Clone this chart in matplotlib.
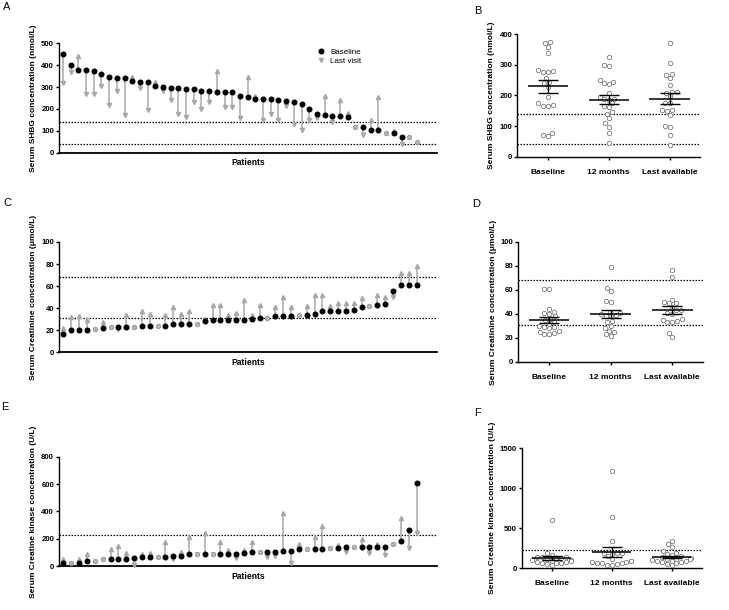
import numpy as np
import matplotlib
matplotlib.use("Agg")
import matplotlib.pyplot as plt

plt.rcParams['font.family'] = ['Liberation Sans', 'DejaVu Sans']

# A - SHBG (nmol/L) per patient, baseline and last visit
shbg_base = [452, 400, 380, 378, 375, 360, 348, 343, 340, 329, 324, 324, 306, 302, 297, 297,
             293, 290, 283, 282, 279, 276, 276, 257, 256, 246, 246, 245, 243, 238, 233, 223,
             199, 177, 174, 168, 168, 163, 119, 116, 104, 104, 89, 88, 73, 70, 50]
shbg_last = [320, 370, 440, 266, 270, 305, 216, 282, 173, 346, 294, 193, 322, 280, 241, 177,
             165, 230, 199, 231, 375, 210, 210, 157, 347, 260, 148, 178, 148, 214, 129, 104,
             150, 159, 259, 140, 239, 182, 119, 81, 148, 254, 89, 99, 40, 70, 50]

# C - creatinine (umol/L)
creat_base = [17, 20, 20, 20, 21, 22, 23, 23, 23, 23, 24, 24, 24, 24, 26, 26, 26, 26, 28, 29,
              29, 29, 29, 29, 30, 31, 31, 33, 33, 33, 34, 34, 35, 37, 37, 37, 37, 38, 41, 42,
              43, 44, 56, 61, 61, 61]
creat_last = [22, 32, 33, 29, 21, 27, 23, 21, 34, 23, 37, 35, 24, 34, 41, 35, 37, 26, 30, 43,
              43, 34, 36, 47, 34, 43, 31, 41, 50, 41, 34, 42, 52, 52, 42, 45, 45, 45, 49, 42,
              52, 50, 50, 72, 72, 78]

# E - creatine kinase (U/L)
ck_base = [20, 24, 24, 39, 39, 51, 51, 51, 51, 61, 63, 66, 66, 66, 76, 76, 85, 85, 88, 88,
           90, 90, 90, 93, 100, 100, 100, 105, 110, 110, 122, 122, 122, 127, 129, 129, 137,
           137, 137, 137, 137, 141, 158, 183, 263, 605]
ck_last = [49, 24, 51, 88, 39, 51, 122, 146, 93, 5, 88, 93, 66, 178, 49, 100, 215, 85, 244,
           88, 178, 115, 56, 120, 178, 100, 65, 75, 385, 20, 161, 122, 215, 293, 129, 154,
           100, 137, 195, 93, 161, 80, 158, 349, 134, 244]

groups = ['Baseline', '12 months', 'Last available']

# B - SHBG by time point
shbg_b0 = [376, 372, 358, 338, 282, 278, 278, 280, 256, 244, 240, 228, 196, 175, 168, 165,
           167, 78, 70, 68]
shbg_12 = [327, 300, 298, 251, 245, 240, 238, 207, 196, 190, 187, 185, 174, 166, 163, 147,
           140, 125, 109, 98, 78, 44]
shbg_la = [370, 305, 270, 267, 256, 234, 212, 212, 207, 198, 177, 174, 153, 153, 150, 136,
           100, 98, 71, 38]

# D - creatinine by time point
creat_b0 = [61, 61, 44, 42, 41, 40, 38, 36, 35, 33, 32, 30, 29, 29, 28, 26, 25, 24, 23, 23]
creat_12 = [79, 62, 59, 51, 50, 42, 41, 40, 39, 38, 38, 34, 33, 30, 28, 26, 25, 23, 22]
creat_la = [77, 71, 52, 50, 49, 49, 46, 43, 43, 41, 40, 36, 35, 34, 33, 33, 24, 21]

# F - creatine kinase by time point
ck_b0 = [600, 185, 165, 145, 140, 135, 130, 125, 115, 105, 100, 95, 85, 80, 75, 70, 65, 60,
         55, 35]
ck_12 = [1210, 640, 345, 195, 190, 185, 175, 150, 110, 90, 85, 80, 75, 70, 65, 60, 55, 45, 40]
ck_la = [340, 300, 260, 220, 190, 175, 165, 150, 140, 130, 120, 115, 110, 100, 95, 90, 85,
         80, 75, 60, 50, 35]

GREY = '#a8a8a8'
TICK_FS = 5.6
LAB_FS = 6.0


def style(ax, ylim, yticks, ylabel):
    for s in ['top', 'right']:
        ax.spines[s].set_visible(False)
    ax.spines['left'].set_linewidth(1.0)
    ax.spines['bottom'].set_linewidth(1.0)
    ax.set_ylim(ylim)
    ax.set_yticks(yticks)
    ax.tick_params(axis='y', length=2.5, width=1.0, labelsize=TICK_FS, pad=1)
    for t in ax.get_yticklabels():
        t.set_fontweight('bold')
    ax.set_ylabel(ylabel, fontsize=LAB_FS, fontweight='bold', labelpad=3)


def paired(ax, base, last, xlim, ylim, yticks, ylabel, refs):
    x = np.arange(1, len(base) + 1)
    for xi, b, l in zip(x, base, last):
        if b == l:
            ax.plot(xi, b, 'o', color='#b5b5b5', mec='#8a8a8a', mew=0.5, ms=3.3, zorder=4)
        else:
            ax.plot([xi, xi], [b, l], color=GREY, lw=1.1, zorder=2, clip_on=False)
            ax.plot(xi, l, '^' if l > b else 'v', color=GREY, ms=3.0, zorder=3, clip_on=False)
            ax.plot(xi, b, 'o', color='black', ms=3.3, zorder=4)
    for r in refs:
        ax.axhline(r, color='black', ls=(0, (1.2, 1.2)), lw=0.9, zorder=1)
    ax.set_xlim(xlim)
    ax.set_xticks([])
    style(ax, ylim, yticks, ylabel)
    ax.spines['bottom'].set_linewidth(1.3)
    ax.set_xlabel('Patients', fontsize=6.2, fontweight='bold', labelpad=4)


def swarm(vals, ypx, d):
    # horizontal offsets (px) so that circles of diameter d do not overlap
    vals = np.asarray(vals, float)
    order = np.argsort(vals)
    cands = sorted(np.arange(-40, 41) * 0.5, key=lambda c: (abs(c), c))
    placed = []
    offs = np.zeros(len(vals))
    for k in order:
        y = vals[k] * ypx
        for c in cands:
            if all((c - px) ** 2 + (y - py) ** 2 >= d * d for px, py in placed):
                break
        offs[k] = c
        placed.append((c, y))
    return offs


def column(ax, data, ylim, yticks, ylabel, refs, ypx):
    xpx = 61.0
    for i, vals in enumerate(data):
        offs = swarm(vals, ypx, 4.8) / xpx
        ax.scatter(i + offs, vals, s=10, facecolor='white', edgecolor='#7a7a7a', lw=0.6, zorder=3)
        m = np.mean(vals)
        se = np.std(vals, ddof=1) / np.sqrt(len(vals))
        ax.hlines(m, i - 0.33, i + 0.33, color='black', lw=1.1, zorder=4)
        ax.errorbar(i, m, yerr=se, fmt='none', ecolor='black', elinewidth=1.0,
                    capsize=7, capthick=1.0, zorder=4)
    for r in refs:
        ax.axhline(r, color='black', ls=(0, (1.2, 1.2)), lw=0.9, zorder=1)
    ax.set_xlim(-0.5, 2.5)
    ax.set_xticks(range(3))
    ax.set_xticklabels(groups, fontsize=6.0, fontweight='bold')
    ax.tick_params(axis='x', length=2.5, width=1.0, pad=6)
    style(ax, ylim, yticks, ylabel)


fig = plt.figure(figsize=(7.29, 6.10), dpi=100)

axA = fig.add_axes([0.0809, 0.7497, 0.5185, 0.1793])
axC = fig.add_axes([0.0809, 0.4225, 0.5185, 0.1808])
axE = fig.add_axes([0.0809, 0.0721, 0.5185, 0.1792])
axB = fig.add_axes([0.7096, 0.7431, 0.2506, 0.2007])
axD = fig.add_axes([0.7110, 0.4066, 0.2534, 0.1967])
axF = fig.add_axes([0.7156, 0.0684, 0.2469, 0.1967])

paired(axA, shbg_base, shbg_last, (0.48, 49.6), (0, 500), range(0, 501, 100),
       'Serum SHBG concentration (nmol/L)', [140, 40])
paired(axC, creat_base, creat_last, (0.43, 48.6), (0, 100), range(0, 101, 20),
       'Serum Creatinine concentration (\u03bcmol/L)', [68, 31])
paired(axE, ck_base, ck_last, (0.43, 48.6), (0, 800), range(0, 801, 200),
       'Serum Creatine kinase concentration (U/L)', [228])

# legend in A
axA.plot([], [], 'o', color='black', ms=3.3, label='Baseline')
axA.plot([], [], 'v', color=GREY, ms=3.0, label='Last visit')
axA.legend(loc='upper left', bbox_to_anchor=(0.66, 1.02), frameon=False, fontsize=5.8,
           handletextpad=0.6, labelspacing=0.2, handlelength=1.2)

column(axB, [shbg_b0, shbg_12, shbg_la], (0, 400), range(0, 401, 100),
       'Serum SHBG concentration (nmol/L)', [140, 40], 122.4 / 400)
column(axD, [creat_b0, creat_12, creat_la], (0, 100), range(0, 101, 20),
       'Serum Creatinine concentration (\u03bcmol/L)', [68, 31], 120 / 100)
column(axF, [ck_b0, ck_12, ck_la], (0, 1500), range(0, 1501, 500),
       'Serum Creatine kinase concentration (U/L)', [228], 120 / 1500)

for lab, x, y in [('A', 3, 10), ('B', 474, 14), ('C', 3, 206), ('D', 472, 207),
                  ('E', 1, 410), ('F', 474, 416)]:
    fig.text(x / 729, 1 - y / 610, lab, fontsize=8, fontfamily=['Liberation Sans'])

fig.savefig('out.png', dpi=100)
